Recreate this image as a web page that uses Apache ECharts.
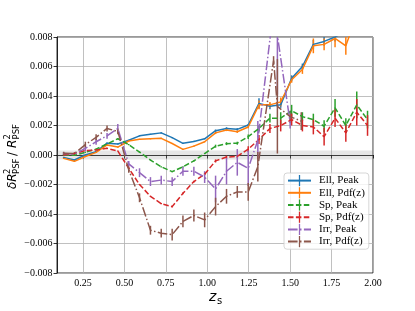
<!DOCTYPE html>
<html><head><meta charset="utf-8">
<script src="https://cdn.jsdelivr.net/npm/echarts@6/dist/echarts.min.js"></script>
<style>html,body{margin:0;padding:0;background:#fff}#c{width:415px;height:311px}</style>
</head><body><div id="c"></div>
<script>
// ---- data ----
const zBins = [0.133, 0.198, 0.264, 0.329, 0.395, 0.460, 0.526, 0.591, 0.657, 0.722, 0.788, 0.853, 0.919, 0.984, 1.050, 1.116, 1.181, 1.247, 1.312, 1.378, 1.443, 1.509, 1.574, 1.640, 1.705, 1.771, 1.836, 1.902, 1.967];
const zIrr = [0.133, 0.198, 0.264, 0.329, 0.395, 0.460, 0.526, 0.591, 0.657, 0.722, 0.788, 0.853, 0.919, 0.984, 1.050, 1.116, 1.181, 1.247, 1.305, 1.400, 1.423, 1.500, 1.567];

const ellPeak = [-0.00016, -0.00034, 0.0, 0.00022, 0.0008, 0.00075, 0.001, 0.0013, 0.0014, 0.0015, 0.00118, 0.00079, 0.00092, 0.0011, 0.00165, 0.0018, 0.00174, 0.00203, 0.0035, 0.0033, 0.0034, 0.0052, 0.006, 0.0075, 0.0077, 0.0080, 0.0084, 0.0088, 0.0092];
const ellPeakErr = [0.00004, 0.00004, 0.00004, 0.00004, 0.00004, 0.00004, 0.00004, 0.00004, 0.00004, 0.00004, 0.00004, 0.00004, 0.00004, 0.00004, 0.00008, 0.00008, 0.00008, 0.00008, 0.00034, 0.0002, 0.0002, 0.0002, 0.0002, 0.0003, 0.0003, 0.0003, 0.0004, 0.0004, 0.0004];
const ellPdf = [-0.00023, -0.00043, -0.0001, 0.00018, 0.00068, 0.00054, 0.00095, 0.00106, 0.0011, 0.00113, 0.00078, 0.00038, 0.0006, 0.0009, 0.0015, 0.0017, 0.00158, 0.0019, 0.0034, 0.0034, 0.0036, 0.0051, 0.0058, 0.0074, 0.0075, 0.0079, 0.0074, 0.0095, 0.0098];
const ellPdfErr = [0.00004, 0.00004, 0.00004, 0.00004, 0.00004, 0.00004, 0.00004, 0.00004, 0.00004, 0.00004, 0.00004, 0.00004, 0.00004, 0.00004, 0.00008, 0.00008, 0.00008, 0.00008, 0.0003, 0.0002, 0.0003, 0.0002, 0.0003, 0.0005, 0.0004, 0.0006, 0.0006, 0.0006, 0.0006];
const spPeak = [0.0, -0.00002, 0.00018, 0.0004, 0.00075, 0.0011, 0.0007, 0.0002, -0.00034, -0.0008, -0.00113, -0.0008, -0.0004, 0.0001, 0.0006, 0.00077, 0.0008, 0.00124, 0.0018, 0.0025, 0.0025, 0.003, 0.0026, 0.0024, 0.00195, 0.0032, 0.002, 0.0034, 0.0024];
const spPeakErr = [0.00004, 0.00004, 0.00004, 0.00004, 0.00004, 0.00004, 0.00004, 0.00004, 0.00004, 0.00004, 0.00004, 0.00004, 0.00004, 0.00004, 0.0001, 0.0001, 0.0001, 0.00015, 0.0002, 0.0003, 0.0004, 0.0004, 0.0003, 0.0004, 0.0004, 0.0006, 0.0005, 0.0009, 0.0006];
const spPdf = [0.0, 0.0001, 0.0003, 0.00034, 0.00045, 0.00027, -0.0009, -0.002, -0.0028, -0.0033, -0.0035, -0.0026, -0.0018, -0.0013, -0.0004, -0.00014, -0.0001, 0.0004, 0.00105, 0.0018, 0.002, 0.0024, 0.002, 0.0019, 0.00124, 0.0025, 0.0015, 0.0029, 0.002];
const spPdfErr = [0.00004, 0.00004, 0.00004, 0.00004, 0.00004, 0.00004, 0.00004, 0.00004, 0.00004, 0.00004, 0.00006, 0.00006, 0.00006, 0.00006, 0.0001, 0.0001, 0.0001, 0.0002, 0.0003, 0.0003, 0.0004, 0.0004, 0.0004, 0.0005, 0.0006, 0.0006, 0.0006, 0.0009, 0.0007];
const irrPeak = [0.0001, 0.00007, 0.00045, 0.0009, 0.0013, 0.0018, -0.0006, -0.0012, -0.0018, -0.0017, -0.0018, -0.0011, -0.0011, -0.0015, -0.0023, -0.0011, -0.0005, -0.0009, 0.001, 0.0099, 0.0081, 0.0022, null];
const irrPeakErr = [0.0001, 0.0001, 0.0002, 0.0002, 0.0002, 0.0003, 0.0002, 0.0003, 0.0003, 0.0003, 0.0003, 0.0003, 0.0003, 0.0004, 0.0009, 0.0009, 0.0009, 0.0012, 0.0013, 0.001, 0.004, 0.0004, null];
const irrPdf = [0.00012, 0.0001, 0.0007, 0.0012, 0.0018, 0.0016, -0.001, -0.0029, -0.0051, -0.0053, -0.0054, -0.0045, -0.0041, -0.0044, -0.0035, -0.0028, -0.0025, -0.0025, -0.0008, 0.0064, 0.0033, 0.0026, 0.0023];
const irrPdfErr = [0.0001, 0.0001, 0.0002, 0.0002, 0.0002, 0.0002, 0.0002, 0.0003, 0.0003, 0.0003, 0.0004, 0.0004, 0.0004, 0.0005, 0.0006, 0.0005, 0.0004, 0.0006, 0.001, 0.0003, 0.0032, 0.0004, 0.0006];

const seriesNames = ['Ell, Peak', 'Ell, Pdf(z)', 'Sp, Peak', 'Sp, Pdf(z)', 'Irr, Peak', 'Irr, Pdf(z)'];
const xTicks = [0.25, 0.5, 0.75, 1.0, 1.25, 1.5, 1.75, 2.0];
const band = [-0.0003, 0.0003];

// ---- styling ----
const colors = ['#1f77b4', '#ff7f0e', '#2ca02c', '#d62728', '#9467bd', '#8c564b'];
const dashSolid = 'solid', dashDashed = [5.5, 2.4], dashDot = [9.6, 2.4, 1.5, 2.4];
const serif = 'Liberation Serif';
const barIcon = 'path://M0,0L0,0M14,14L14,14M6.2,0L7.8,0L7.8,14L6.2,14Z';

function lineSeries(name, xs, ys, color, dash, extra) {
  const data = [];
  xs.forEach((x, i) => { if (ys[i] !== null) data.push([x, ys[i]]); });
  return Object.assign({
    type: 'line', name, data, showSymbol: false, symbol: barIcon, symbolSize: 11,
    lineStyle: { color, width: 1.5, type: dash }, itemStyle: { color, borderWidth: 0 },
    animation: false, silent: true, z: 3, clip: true
  }, extra || {});
}
function errSeries(name, xs, ys, es, color) {
  const data = [];
  xs.forEach((x, i) => { if (ys[i] !== null) data.push([x, ys[i], es[i]]); });
  return {
    type: 'custom', name: name + ' err', data, clip: true, z: 3, animation: false, silent: true,
    encode: { x: 0, y: 1 },
    renderItem: function (params, api) {
      const x = api.value(0), y = api.value(1), e = api.value(2);
      const p1 = api.coord([x, y - e]), p2 = api.coord([x, y + e]);
      return { type: 'line', shape: { x1: p1[0], y1: p1[1], x2: p2[0], y2: p2[1] },
        style: { stroke: color, lineWidth: 1.5 } };
    }
  };
}

const sets = [
  [zBins, ellPeak, ellPeakErr, dashSolid],
  [zBins, ellPdf, ellPdfErr, dashSolid],
  [zBins, spPeak, spPeakErr, dashDashed],
  [zBins, spPdf, spPdfErr, dashDashed],
  [zIrr, irrPeak, irrPeakErr, dashDot],
  [zIrr, irrPdf, irrPdfErr, dashDot]
];
const series = [];
sets.forEach((s, k) => {
  const extra = k === 0 ? { markArea: { silent: true, itemStyle: { color: 'rgba(140,140,140,0.22)' },
    data: [[{ yAxis: band[0] }, { yAxis: band[1] }]] } } : null;
  series.push(lineSeries(seriesNames[k], s[0], s[1], colors[k], s[3], extra));
  series.push(errSeries(seriesNames[k], s[0], s[1], s[2], colors[k]));
});

const fmtY = v => (v < 0 ? '\u2212' : '') + Math.abs(v).toFixed(3);

const chart = echarts.init(document.getElementById('c'), null, { renderer: 'canvas', width: 415, height: 311 });
chart.setOption({
  animation: false,
  backgroundColor: '#fff',
  grid: { left: 57, right: 42, top: 37, bottom: 38, show: true, borderColor: '#000', borderWidth: 0.8, backgroundColor: 'transparent' },
  xAxis: {
    type: 'value', min: 0.093, max: 2.0,
    axisLine: { show: true, lineStyle: { color: '#000', width: 0.8 } },
    axisTick: { show: true, length: 3.5, lineStyle: { color: '#000', width: 0.8 }, customValues: xTicks },
    axisLabel: { customValues: xTicks, formatter: v => v.toFixed(2), fontFamily: serif, fontSize: 10, color: '#000', margin: 5 },
    splitLine: { show: true, lineStyle: { color: '#b0b0b0', width: 0.8 } }
  },
  yAxis: {
    type: 'value', min: -0.008, max: 0.008, interval: 0.002,
    axisLine: { show: true, lineStyle: { color: '#000', width: 0.8 } },
    axisTick: { show: true, length: 3.5, lineStyle: { color: '#000', width: 0.8 } },
    axisLabel: { formatter: fmtY, fontFamily: serif, fontSize: 10, color: '#000', margin: 4.5 },
    splitLine: { show: true, lineStyle: { color: '#b0b0b0', width: 0.8 } }
  },
  legend: {
    data: seriesNames, orient: 'vertical', left: 284, top: 173,
    padding: [2, 4, 2, 3], itemGap: 1, itemWidth: 23, itemHeight: 14,
    backgroundColor: 'rgba(255,255,255,0.8)', borderColor: '#cccccc', borderWidth: 0.8, borderRadius: 3,
    textStyle: { fontFamily: serif, fontSize: 11, color: '#000', padding: [0, 0, 0, 3] },
    selectedMode: false
  },
  graphic: [
    { type: 'group', x: 13, y: 157, rotation: Math.PI / 2, children: [
      { type: 'text', x: -32, y: 0, style: { text: '\u03b4R', font: 'italic 12px "DejaVu Sans"', fill: '#000', textAlign: 'left', textVerticalAlign: 'middle' } },
      { type: 'text', x: -17, y: -5, style: { text: '2', font: '8.5px "DejaVu Sans"', fill: '#000', textAlign: 'left', textVerticalAlign: 'middle' } },
      { type: 'text', x: -17, y: 4, style: { text: 'PSF', font: '8.5px "DejaVu Sans"', fill: '#000', textAlign: 'left', textVerticalAlign: 'middle' } },
      { type: 'text', x: 1, y: 0, style: { text: '/', font: '12px "DejaVu Sans"', fill: '#000', textAlign: 'left', textVerticalAlign: 'middle' } },
      { type: 'text', x: 9, y: 0, style: { text: 'R', font: 'italic 12px "DejaVu Sans"', fill: '#000', textAlign: 'left', textVerticalAlign: 'middle' } },
      { type: 'text', x: 17.5, y: -5, style: { text: '2', font: '8.5px "DejaVu Sans"', fill: '#000', textAlign: 'left', textVerticalAlign: 'middle' } },
      { type: 'text', x: 17.5, y: 4, style: { text: 'PSF', font: '8.5px "DejaVu Sans"', fill: '#000', textAlign: 'left', textVerticalAlign: 'middle' } }
    ]},
    { type: 'text', x: 209, y: 297, style: { text: 'z', font: 'italic 14px "DejaVu Sans"', fill: '#000', textAlign: 'left', textVerticalAlign: 'middle' } },
    { type: 'text', x: 217, y: 301, style: { text: 's', font: '10px "DejaVu Sans"', fill: '#000', textAlign: 'left', textVerticalAlign: 'middle' } }
  ],
  series
});
</script>
</body></html>
